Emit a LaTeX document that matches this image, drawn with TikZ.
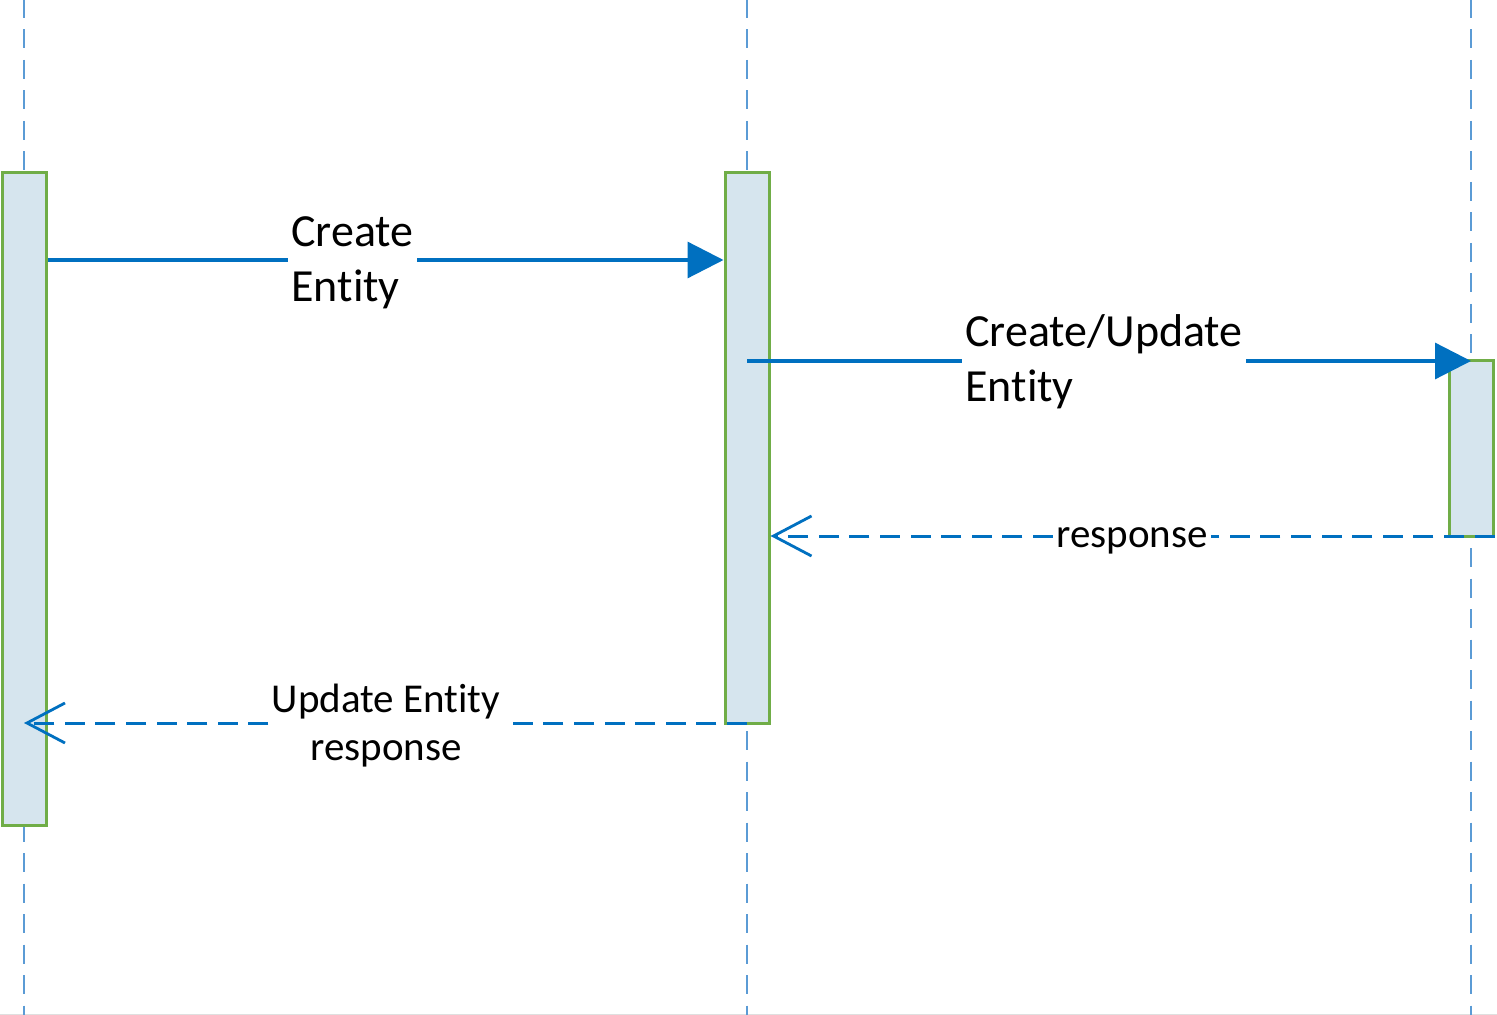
\documentclass[tikz,border=0pt]{standalone}
\usepackage{fontspec}
\setmainfont{Carlito}[Ligatures={NoCommon,NoContextual}]
\usetikzlibrary{arrows.meta}
\definecolor{lifec}{HTML}{5B9BD5}
\definecolor{msgc}{HTML}{0070C0}
\definecolor{actfill}{HTML}{D6E5EE}
\definecolor{actdraw}{HTML}{70AD47}
\begin{document}
\begin{tikzpicture}[x=0.5pt,y=-0.5pt,
 lifeline/.style={draw=lifec, line width=1.4pt, dash pattern=on 9.5pt off 5.75pt},
 act/.style={draw=actdraw, fill=actfill, line width=1.5pt, minimum width=22pt, inner sep=0pt},
 msg/.style={draw=msgc, line width=1.6pt},
 reply/.style={draw=msgc, line width=1.5pt, dash pattern=on 10pt off 5.3pt},
 big/.style={font=\fontsize{23}{27}\selectfont, inner xsep=1.5pt, inner ysep=0pt},
 small/.style={font=\fontsize{20.5}{24}\selectfont, inner xsep=1.5pt, inner ysep=0pt},
 solidtip/.style={-{Triangle[length=18pt,width=18pt]}},
 opentip/.style={-{Straight Barb[length=19pt,width=20pt,line width=1.4pt]}}
]
\useasboundingbox (0,0) rectangle (1497,1015);
\fill[white] (0,0) rectangle (1497,1015);
\draw[gray!25, line width=0.5pt] (0,1014) -- (1497,1014);

% lifelines
\coordinate (lLt) at (24,-1);
\coordinate (lLb) at (24,1015);
\coordinate (lMt) at (747,-1);
\coordinate (lMb) at (747,1015);
\coordinate (lRt) at (1471,-1);
\coordinate (lRb) at (1471,1015);
\draw[lifeline] (lLt) -- (lLb);
\draw[lifeline] (lMt) -- (lMb);
\draw[lifeline] (lRt) -- (lRb);

% activation boxes
\node[act, minimum height=326pt] (aL) at (24,499) {};
\node[act, minimum height=275pt] (aM) at (747,448) {};
\node[act, minimum height=87.5pt] (aR) at (1471,448.5) {};

% message rows
\coordinate (m1) at (0,260);
\coordinate (m2) at (0,361);
\coordinate (m3) at (0,536);
\coordinate (m4) at (0,723);

% labels
\node[big, anchor=base west] (c1) at (288,247) {Create};
\node[big, anchor=base west] (c2) at (288,302) {Entity};
\node[big, anchor=base west] (u1) at (962,347) {Create/Update};
\node[big, anchor=base west] (u2) at (962,402) {Entity};
\node[small, anchor=base] (rs) at (1132,547) {response};
\node[small, anchor=base] (r1) at (386,712) {Update Entity};
\node[small, anchor=base] (r2) at (386,760) {response};

% message 1
\draw[msg] (aL.east |- m1) -- (c1.west |- m1);
\draw[msg, solidtip] (c1.east |- m1) -- (aM.west |- m1);
% message 2
\draw[msg] (aM.center |- m2) -- (u1.west |- m2);
\draw[msg, solidtip] (u1.east |- m2) -- (aR.center |- m2);
% reply 3
\draw[reply] (aR.east |- m3) -- (rs.east |- m3);
\draw[reply, opentip] (rs.west |- m3) -- (aM.east |- m3);
% reply 4
\draw[reply] (aM.center |- m4) -- (r1.east |- m4);
\draw[reply, opentip] (r1.west |- m4) -- (aL.center |- m4);
\end{tikzpicture}
\end{document}
